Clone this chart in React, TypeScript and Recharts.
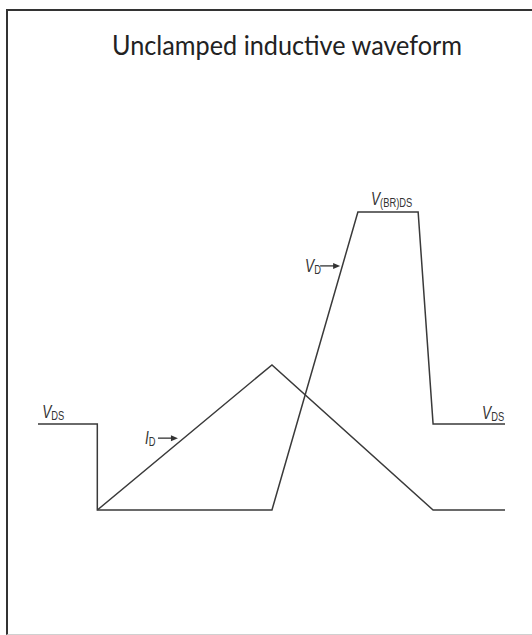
import React from 'react';
import { LineChart, Line, XAxis, YAxis, ReferenceDot } from 'recharts';

// time axis (arbitrary units 0..100) and levels (arbitrary units 0..100)
const vdsTime = [0, 12.7, 12.7, 50.1, 68.5, 81.4, 84.6, 100];
const vdsLevel = [28.9, 28.9, 0, 0, 100, 100, 28.9, 28.9];
const idTime = [12.7, 50.1, 84.6, 100];
const idLevel = [0, 48.7, 0, 0];

const labelTime = [0.9, 95.1, 22.9, 57.2, 71.3];
const labelLevel = [30.9, 30.5, 22.1, 79.9, 102.3];
const labelMain = ['V', 'V', 'I', 'V', 'V'];
const labelSub = ['DS', 'DS', 'D', 'D', '(BR)DS'];
const labelArrow = [false, false, true, true, false];

const vdsData = vdsTime.map((t, i) => ({ t, v: vdsLevel[i] }));
const idData = idTime.map((t, i) => ({ t, v: idLevel[i] }));

const STROKE = '#3a3a3a';

function LabelMark(props: any) {
  const { cx, cy, main, sub, arrow } = props;
  if (cx == null || cy == null) return null;
  const arrowStart = main === 'I' ? 13 : 15;
  return (
    <g>
      <g transform={`translate(${cx},${cy}) scale(0.72,1)`}>
        <text x={0} y={0} fontFamily="'Liberation Sans', Arial, sans-serif" fontSize={19} fill="#333">
          <tspan fontStyle="italic">{main}</tspan>
          <tspan fontSize={13} dy={2}>{sub}</tspan>
        </text>
      </g>
      {arrow && (
        <g>
          <line x1={cx + arrowStart} y1={cy - 6} x2={cx + arrowStart + 15} y2={cy - 6} stroke="#333" strokeWidth={1.3} />
          <polygon
            points={`${cx + arrowStart + 20},${cy - 6} ${cx + arrowStart + 13},${cy - 9} ${cx + arrowStart + 13},${cy - 3}`}
            fill="#333"
          />
        </g>
      )}
    </g>
  );
}

export default function App() {
  return (
    <div style={{ position: 'absolute', left: 0, top: 0, width: 532, height: 635, overflow: 'hidden', background: '#fff' }}>
      <div
        style={{
          position: 'absolute',
          left: 6,
          top: 9,
          width: 560,
          height: 623,
          borderLeft: '2px solid #333',
          borderTop: '2px solid #333',
          borderBottom: '1px solid #d0d0d0',
        }}
      />
      <svg style={{ position: 'absolute', left: 0, top: 0 }} width={532} height={80}>
        <text
          x={287}
          y={55}
          textAnchor="middle"
          fontFamily="Lato, 'Open Sans', sans-serif"
          fontSize={26}
          fill="#222"
          textLength={350}
          lengthAdjust="spacingAndGlyphs"
        >
          Unclamped inductive waveform
        </text>
      </svg>
      <div style={{ position: 'absolute', left: 0, top: 0 }}>
        <LineChart width={532} height={635} margin={{ top: 212, bottom: 125, left: 38, right: 27 }}>
          <XAxis dataKey="t" type="number" domain={[0, 100]} hide />
          <YAxis type="number" domain={[0, 100]} hide />
          <Line
            data={idData}
            dataKey="v"
            type="linear"
            stroke={STROKE}
            strokeWidth={1.5}
            dot={false}
            isAnimationActive={false}
          />
          <Line
            data={vdsData}
            dataKey="v"
            type="linear"
            stroke={STROKE}
            strokeWidth={1.5}
            dot={false}
            isAnimationActive={false}
          />
          {labelTime.map((t, i) => (
            <ReferenceDot
              key={i}
              x={t}
              y={labelLevel[i]}
              r={0}
              ifOverflow="visible"
              shape={(p: any) => (
                <LabelMark cx={p.cx} cy={p.cy} main={labelMain[i]} sub={labelSub[i]} arrow={labelArrow[i]} />
              )}
            />
          ))}
        </LineChart>
      </div>
    </div>
  );
}
